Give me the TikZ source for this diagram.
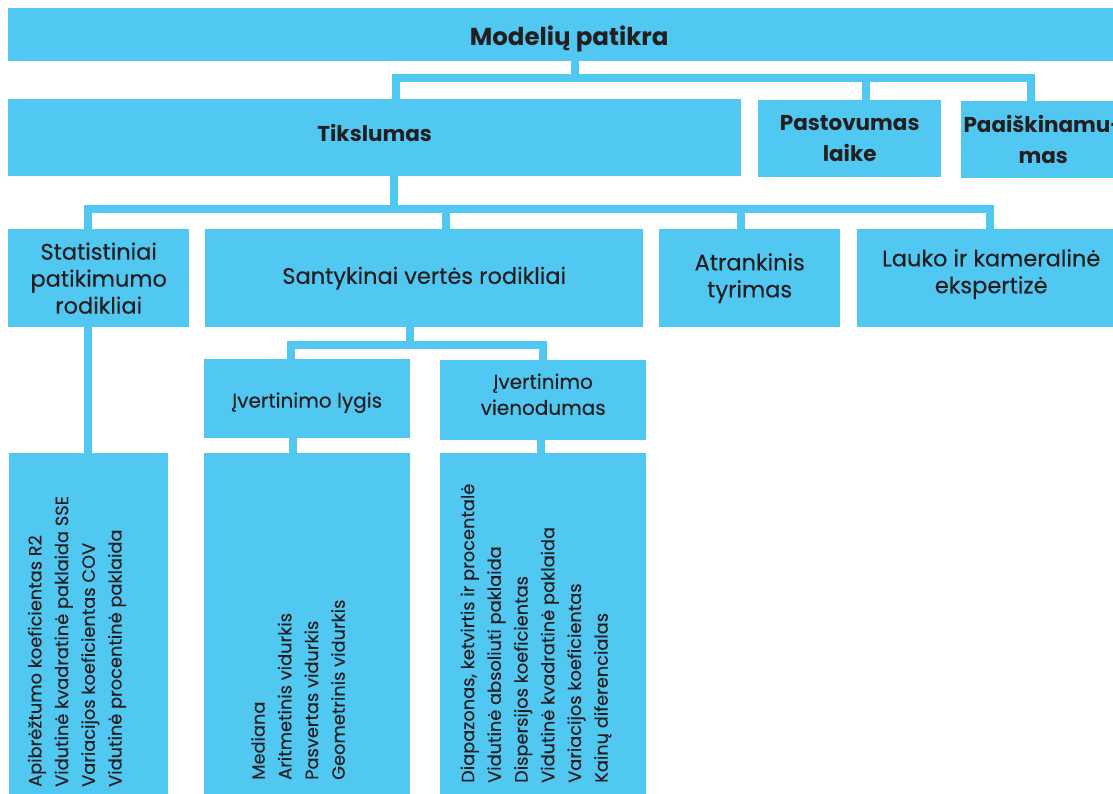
\documentclass[tikz,border=0pt]{standalone}
\usepackage{fontspec}
\setmainfont{Poppins}
\newfontfamily\medfont[FakeBold=0.3]{Poppins}
\usetikzlibrary{positioning}
\definecolor{boxblue}{RGB}{80,200,242}
\definecolor{inkdark}{RGB}{35,31,32}
\tikzset{
  box/.style={fill=boxblue, text=inkdark, align=center, inner sep=0pt,
              anchor=north west},
  link/.style={draw=boxblue, line width=8pt},
}
\begin{document}
\begin{tikzpicture}[x=1pt, y=-1pt,
      lvlone/.style={box, font=\fontsize{24.5}{30}\selectfont\bfseries},
      lvltwo/.style={box, font=\fontsize{21.5}{31}\selectfont\bfseries},
      lvlthree/.style={box, font=\fontsize{22.5}{27}\selectfont\medfont},
      lvlfour/.style={box, font=\fontsize{20}{26}\selectfont\medfont},
      listtxt/.style={rotate=90, anchor=west, align=left, inner sep=0pt,
                      text=inkdark, font=\fontsize{17.8}{26.7}\selectfont\medfont}]
    \clip (0,0) rectangle (1113,794);
    % top
    \node[lvlone, minimum width=1122pt, minimum height=53pt] (top) at (8,8) {\raisebox{-4pt}[\height][\depth]{Modelių patikra}};
    % second row
    \node[lvltwo, minimum width=733pt, minimum height=77pt] (tiks) at (8,99) {Tikslumas\\[-21pt]};
    \node[lvltwo, minimum width=183pt, minimum height=77pt] (past) at (758,100) {Pastovumas\\laike};
    \node[lvltwo, minimum width=164pt, minimum height=77pt] (paai) at (961,101) {Paaiškinamu-\\mas};
    % third row
    \node[lvlthree, minimum width=181pt, minimum height=98pt] (stat) at (8,229) {Statistiniai\\patikimumo\\rodikliai};
    \node[lvlthree, minimum width=438pt, minimum height=98pt] (sant) at (205,229) {Santykinai vertės rodikliai};
    \node[lvlthree, minimum width=181pt, minimum height=98pt] (atra) at (659,229) {Atrankinis\\tyrimas};
    \node[lvlthree, minimum width=268pt, minimum height=98pt] (lauk) at (857,229) {Lauko ir kameralinė\\ekspertizė\\[-13pt]};
    % fourth row
    \node[lvlfour, minimum width=206pt, minimum height=79pt] (lygis) at (204,359) {\raisebox{-4pt}[\height][\depth]{Įvertinimo lygis}};
    \node[lvlfour, minimum width=206pt, minimum height=80pt] (vien) at (440,360) {Įvertinimo\\vienodumas\\[-14pt]};
    % lists
    \node[box, minimum width=159pt, minimum height=341pt] (statl) at (9,453) {};
    \node[box, minimum width=206pt, minimum height=341pt] (lygl) at (204,453) {};
    \node[box, minimum width=206pt, minimum height=341pt] (vienl) at (440,453) {};
    \node[listtxt] (statt) at (77,787) {Apibrėžtumo koeficientas R2\\Vidutinė kvadratinė paklaida SSE\\Variacijos koeficientas COV\\Vidutinė procentinė paklaida};
    \node[listtxt] (lygt) at (298,780) {Mediana\\Aritmetinis vidurkis\\Pasvertas vidurkis\\Geometrinis vidurkis};
    \node[listtxt] (vient) at (536,783) {Diapazonas, ketvirtis ir procentalė\\Vidutinė absoliuti paklaida\\Dispersijos koeficientas\\Vidutinė kvadratinė paklaida\\Variacijos koeficientas\\Kainų diferencialas};
    % connectors
    \coordinate (busa) at (575,78);
    \draw[link] (top.south -| busa) -- (busa) -| (tiks.north -| 396,0);
    \draw[link] (busa) -| (past.north -| 866,0);
    \draw[link] (busa) -| (paai.north -| 1031,0);
    \coordinate (busb) at (394,209);
    \draw[link] (tiks.south -| busb) -- (busb) -| (stat.north -| 88,0);
    \draw[link] (busb) -| (sant.north -| 446,0);
    \draw[link] (busb) -| (atra.north -| 741,0);
    \draw[link] (busb) -| (lauk.north -| 990,0);
    \coordinate (busc) at (410,345);
    \draw[link] (sant.south -| busc) -- (busc) -| (lygis.north -| 291,0);
    \draw[link] (busc) -| (vien.north -| 543,0);
    \draw[link] (stat.south -| 88,0) -- (statl.north -| 88,0);
    \draw[link] (lygis.south -| 293,0) -- (lygl.north -| 293,0);
    \draw[link] (vien.south -| 541,0) -- (vienl.north -| 541,0);
\end{tikzpicture}
\end{document}
